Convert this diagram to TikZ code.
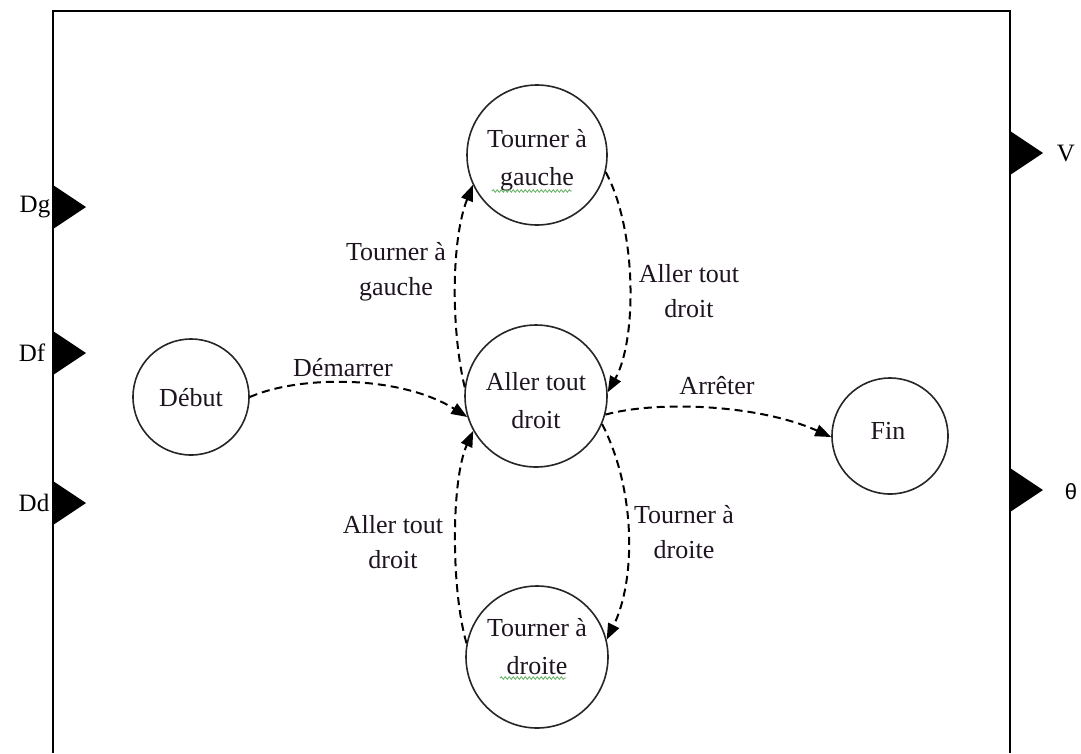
\documentclass[tikz,border=0pt]{standalone}
\usepackage{fontspec}
\setmainfont{Liberation Serif}
\newfontfamily\portsans{Liberation Sans}
\usetikzlibrary{arrows.meta,decorations.pathmorphing}
\definecolor{ink}{HTML}{1E1420}
\definecolor{spellgreen}{HTML}{5FAF5F}
\begin{document}
\begin{tikzpicture}[x=1pt,y=-1pt,
  stnode/.style={circle,draw=black!85,line width=1.6pt,minimum size=#1,inner sep=0pt},
  txt/.style={font=\fontsize{26}{35}\selectfont,text=ink,align=center,inner sep=0pt},
  intxt/.style={txt,font=\fontsize{26}{38}\selectfont},
  trans/.style={line width=2pt,dash pattern=on 8pt off 5pt,-{Triangle[length=16pt,width=12pt]}},
  portlabel/.style={font=\fontsize{25}{30}\selectfont,text=black,inner sep=0pt},
  squiggle/.style={spellgreen,line width=0.8pt,decorate,decoration={snake,amplitude=1.3pt,segment length=4pt}}]
\useasboundingbox (0,0) rectangle (1081,753);

% block frame (open at the bottom)
\draw[line width=1.8pt] (53,753) -- (53,11) -- (1010,11) -- (1010,753);

% input ports
\fill (53,185) -- (86,207) -- (53,229) -- cycle;
\fill (53,331) -- (86,353) -- (53,375) -- cycle;
\fill (53,481) -- (86,503) -- (53,525) -- cycle;
\node[portlabel] (dg) at (35,207) {Dg};
\node[portlabel] (df) at (32,353) {Df};
\node[portlabel] (dd) at (34,503) {Dd};

% output ports
\fill (1010,131) -- (1043,153) -- (1010,175) -- cycle;
\fill (1010,468) -- (1043,490) -- (1010,512) -- cycle;
\node[portlabel] (v) at (1066,153) {V};
\node[portlabel,font=\portsans\fontsize{22}{26}\selectfont] (theta) at (1071,492) {θ};

% states
\node[stnode=116pt] (debut) at (191,397) {};
\node[stnode=142pt] (aller) at (536,396) {};
\node[stnode=140pt] (gauche) at (537,155) {};
\node[stnode=142pt] (droite) at (537,657) {};
\node[stnode=116pt] (fin) at (890,436) {};

\node[intxt] (debut-t) at (191,398) {Début};
\node[intxt] (aller-t) at (536,401) {Aller tout\\droit};
\node[intxt] (gauche-t) at (537,160) {Tourner à\\gauche};
\node[intxt] (droite-t) at (537,647) {Tourner à\\droite};
\node[intxt] (fin-t) at (888,431) {Fin};

% spell-check underlines
\draw[squiggle] (492,191) -- (572,191);
\draw[squiggle] (500,678) -- (566,678);

% transitions
\draw[trans] (debut.0) .. controls (300,375) and (400,375) .. (aller.197);
\draw[trans] (aller.345) .. controls (660,400) and (760,405) .. (fin.181);
\draw[trans] (aller.173) .. controls (451,330) and (451,240) .. (gauche.205);
\draw[trans] (gauche.346) .. controls (637,230) and (637,340) .. (aller.3);
\draw[trans] (aller.337) .. controls (636,490) and (636,580) .. (droite.14);
\draw[trans] (droite.169) .. controls (451,590) and (451,480) .. (aller.209);

% transition labels
\node[txt] (l-demarrer) at (343,368) {Démarrer};
\node[txt] (l-arreter) at (717,386) {Arrêter};
\node[txt] (l-gauche) at (396,272) {Tourner à\\gauche};
\node[txt] (l-droit1) at (689,291) {Aller tout\\droit};
\node[txt] (l-droite) at (684,532) {Tourner à\\droite};
\node[txt] (l-droit2) at (393,542) {Aller tout\\droit};
\end{tikzpicture}
\end{document}
